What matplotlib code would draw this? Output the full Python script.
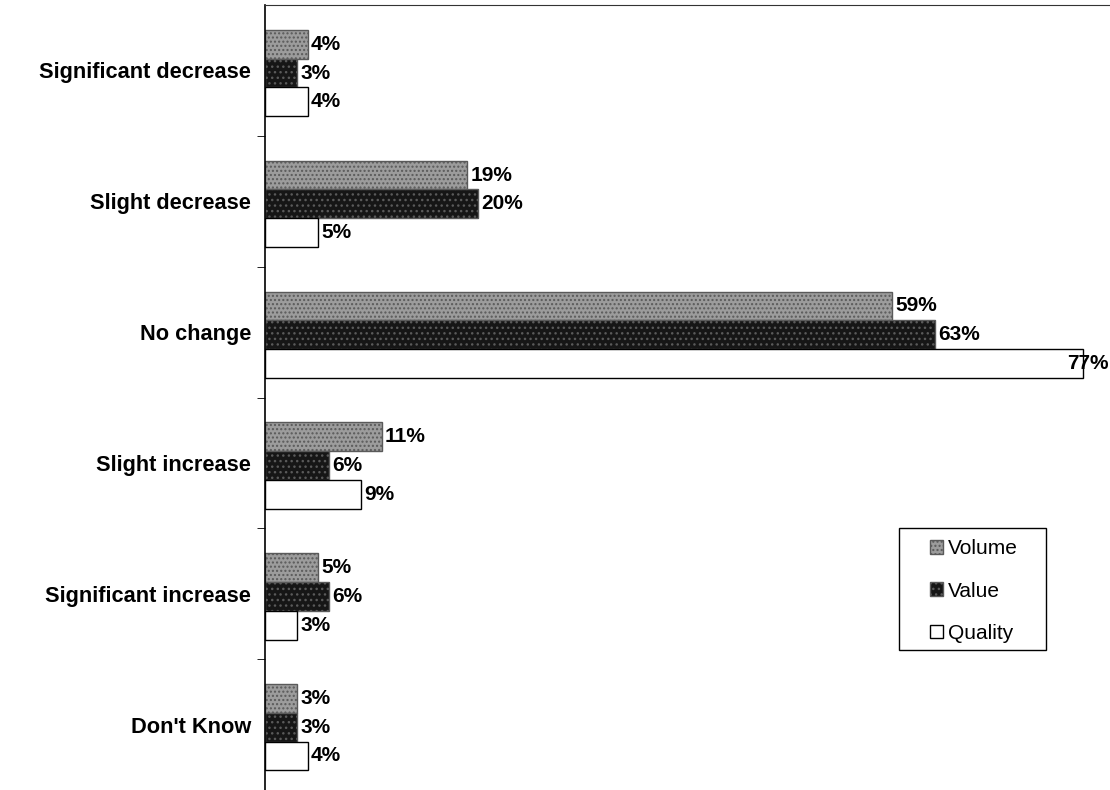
import numpy as np
import matplotlib
matplotlib.use("Agg")
import matplotlib.pyplot as plt
from matplotlib.patches import Rectangle

plt.rcParams['font.family'] = ['Liberation Sans', 'DejaVu Sans']

# categories top to bottom
categories = ["Significant decrease", "Slight decrease", "No change",
              "Slight increase", "Significant increase", "Don't Know"]
volume = [4, 19, 59, 11, 5, 3]
value = [3, 20, 63, 6, 6, 3]
quality = [4, 5, 77, 9, 3, 4]
series_names = ["Volume", "Value", "Quality"]

fig = plt.figure(figsize=(11.1, 7.9), dpi=100)
ax = fig.add_axes([265/1110, 0.0, 845/1110, 785/790])

XMAX = 79.5
y = np.arange(len(categories))
h = 0.22
styles = [
    dict(color="#9c9c9c", edgecolor="#5a5a5a", hatch="...."),
    dict(color="#161616", edgecolor="#5a5a5a", hatch="..."),
    dict(color="white", edgecolor="black", hatch=None),
]

for i, (vals, name) in enumerate(zip([volume, value, quality], series_names)):
    ypos = y + (i - 1) * h + 0.02
    ax.barh(ypos, vals, height=h, label=name, linewidth=1.0, **styles[i])
    for yy, v in zip(ypos, vals):
        # keep the label inside the frame, like the original which overlaps the bar end
        xx = min(v + 0.3, XMAX - 4.0)
        ax.text(xx, yy, f"{v}%", va="center", ha="left",
                fontsize=15, fontweight="bold")

ax.set_xlim(0, XMAX)
ax.set_ylim(len(categories) - 0.5, -0.5)

# category labels at centres, tick marks at the boundaries
ax.set_yticks(y)
ax.set_yticklabels(categories, fontsize=15.7, fontweight="bold")
ax.tick_params(axis="y", which="major", length=0, pad=10)
ax.set_yticks(np.arange(0.5, len(categories) - 0.5, 1), minor=True)
ax.tick_params(axis="y", which="minor", length=6, direction="out")
ax.set_xticks([])

ax.spines["right"].set_visible(False)
ax.spines["bottom"].set_visible(False)
ax.spines["top"].set_linestyle((0, (1, 1)))
ax.spines["top"].set_color("#333333")
ax.spines["left"].set_linewidth(1.2)

# legend box drawn separately so the side padding can be wider than the top
ax.add_patch(Rectangle((0.7503, 0.1783), 0.174, 0.1555, transform=ax.transAxes,
                       facecolor="white", edgecolor="black", linewidth=1.0,
                       zorder=4))
leg = ax.legend(loc="center left", bbox_to_anchor=(0.787, 0.2535),
                prop={"size": 15}, frameon=False,
                handlelength=0.63, handleheight=0.63, handletextpad=0.25,
                labelspacing=1.12, borderpad=0, borderaxespad=0)
leg.set_zorder(5)

plt.savefig("out.png", dpi=100)
